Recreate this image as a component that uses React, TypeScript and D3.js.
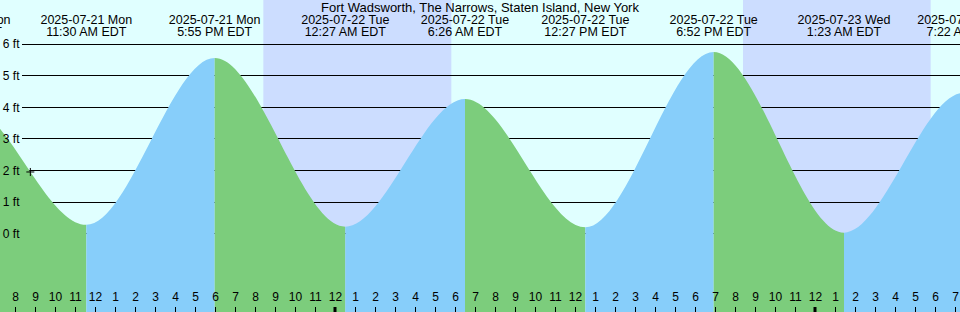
import React from "react";
import * as d3 from "d3";

const title = "Fort Wadsworth, The Narrows, Staten Island, New York";
const extremeTimes = [
  "2025-07-20 23:15",
  "2025-07-21 05:25",
  "2025-07-21 11:30",
  "2025-07-21 17:55",
  "2025-07-22 00:27",
  "2025-07-22 06:26",
  "2025-07-22 12:27",
  "2025-07-22 18:52",
  "2025-07-23 01:23",
  "2025-07-23 07:22",
  "2025-07-23 13:35",
];
const extremeHeights = [0.5, 4.1, 0.28, 5.56, 0.22, 4.26, 0.2, 5.75, 0.03, 4.45, 0.3];
const nightStarts = ["2025-07-20 20:22", "2025-07-21 20:21", "2025-07-22 20:20"];
const nightEnds = ["2025-07-21 05:44", "2025-07-22 05:45", "2025-07-23 05:43"];
const yTicks = [0, 1, 2, 3, 4, 5, 6];
const domainStart = "2025-07-21 07:11";
const domainEnd = "2025-07-23 07:11";
const nowTime = "2025-07-21 08:42";
const nowHeight = 1.95;

const W = 960;
const H = 312;
const parse = d3.timeParse("%Y-%m-%d %H:%M");
const fmtDate = d3.timeFormat("%Y-%m-%d %a");
const fmtTime = d3.timeFormat("%-I:%M %p EDT");
const fmtHour = d3.timeFormat("%-I");

const C_DAY = "#e0ffff";
const C_NIGHT = "#ccddff";
const C_RISE = "#87cefa";
const C_FALL = "#7ccd7c";
const FONT = "'Liberation Sans', Arial, sans-serif";

export default function App() {
  const x = d3.scaleTime().domain([parse(domainStart)!, parse(domainEnd)!]).range([0, W]);
  const y = d3.scaleLinear().domain([0, 6]).range([233.6, 44]);
  const pts = extremeTimes.map((t, i) => ({ t: parse(t)!, h: extremeHeights[i] }));
  const area = d3
    .area<{ t: Date; h: number }>()
    .x((d) => x(d.t))
    .y0(H)
    .y1((d) => y(d.h))
    .curve(d3.curveMonotoneX);
  const areaPath = area(pts) || "";
  const hours = d3.timeHour.range(x.domain()[0], d3.timeMinute.offset(x.domain()[1], 1));
  const nowX = x(parse(nowTime)!);
  const nowY = y(nowHeight);

  return (
    <svg
      width={W}
      height={H}
      style={{ position: "absolute", left: 0, top: 0, display: "block" }}
      fontFamily={FONT}
      fontSize={12}
    >
      <defs>
        {pts.slice(0, -1).map((p, i) => (
          <clipPath id={`seg${i}`} key={i}>
            <rect x={x(p.t)} y={0} width={x(pts[i + 1].t) - x(p.t)} height={H} />
          </clipPath>
        ))}
      </defs>
      <rect x={0} y={0} width={W} height={H} fill={C_DAY} />
      {nightStarts.map((s, i) => {
        const x0 = x(parse(s)!);
        const x1 = x(parse(nightEnds[i])!);
        return <rect key={i} x={x0} y={0} width={x1 - x0} height={H} fill={C_NIGHT} />;
      })}
      {yTicks.map((v) => (
        <line
          key={v}
          x1={22}
          x2={W}
          y1={Math.floor(y(v)) + 0.5}
          y2={Math.floor(y(v)) + 0.5}
          stroke="#000"
          strokeWidth={1}
        />
      ))}
      {pts.slice(0, -1).map((p, i) => (
        <path
          key={i}
          d={areaPath}
          fill={pts[i + 1].h > p.h ? C_RISE : C_FALL}
          clipPath={`url(#seg${i})`}
        />
      ))}
      {yTicks.map((v) => (
        <text key={v} x={19.5} y={y(v) + 4.3} textAnchor="end" fill="#000">
          {v} ft
        </text>
      ))}
      <g stroke="#000" strokeWidth={1}>
        <line x1={nowX - 4} x2={nowX + 4} y1={nowY} y2={nowY} />
        <line x1={nowX} x2={nowX} y1={nowY - 4} y2={nowY + 4} />
      </g>
      {hours.map((h, i) => {
        const hx = Math.round(x(h)) - 1;
        const midnight = h.getHours() === 0;
        return (
          <g key={i}>
            <line
              x1={midnight ? hx : hx + 0.5}
              x2={midnight ? hx : hx + 0.5}
              y1={307}
              y2={H}
              stroke="#000"
              strokeWidth={midnight ? 3 : 1}
            />
            <text x={hx + 0.5} y={301} textAnchor="middle" fill="#000">
              {fmtHour(h)}
            </text>
          </g>
        );
      })}
      {pts.map((p, i) => (
        <g key={i} fontSize={12.5}>
          <text x={x(p.t)} y={23.5} textAnchor="middle" fill="#000">
            {fmtDate(p.t)}
          </text>
          <text x={x(p.t)} y={36} textAnchor="middle" fill="#000">
            {fmtTime(p.t)}
          </text>
        </g>
      ))}
      <text x={480} y={12} textAnchor="middle" fill="#000" fontSize={13}>
        {title}
      </text>
    </svg>
  );
}
